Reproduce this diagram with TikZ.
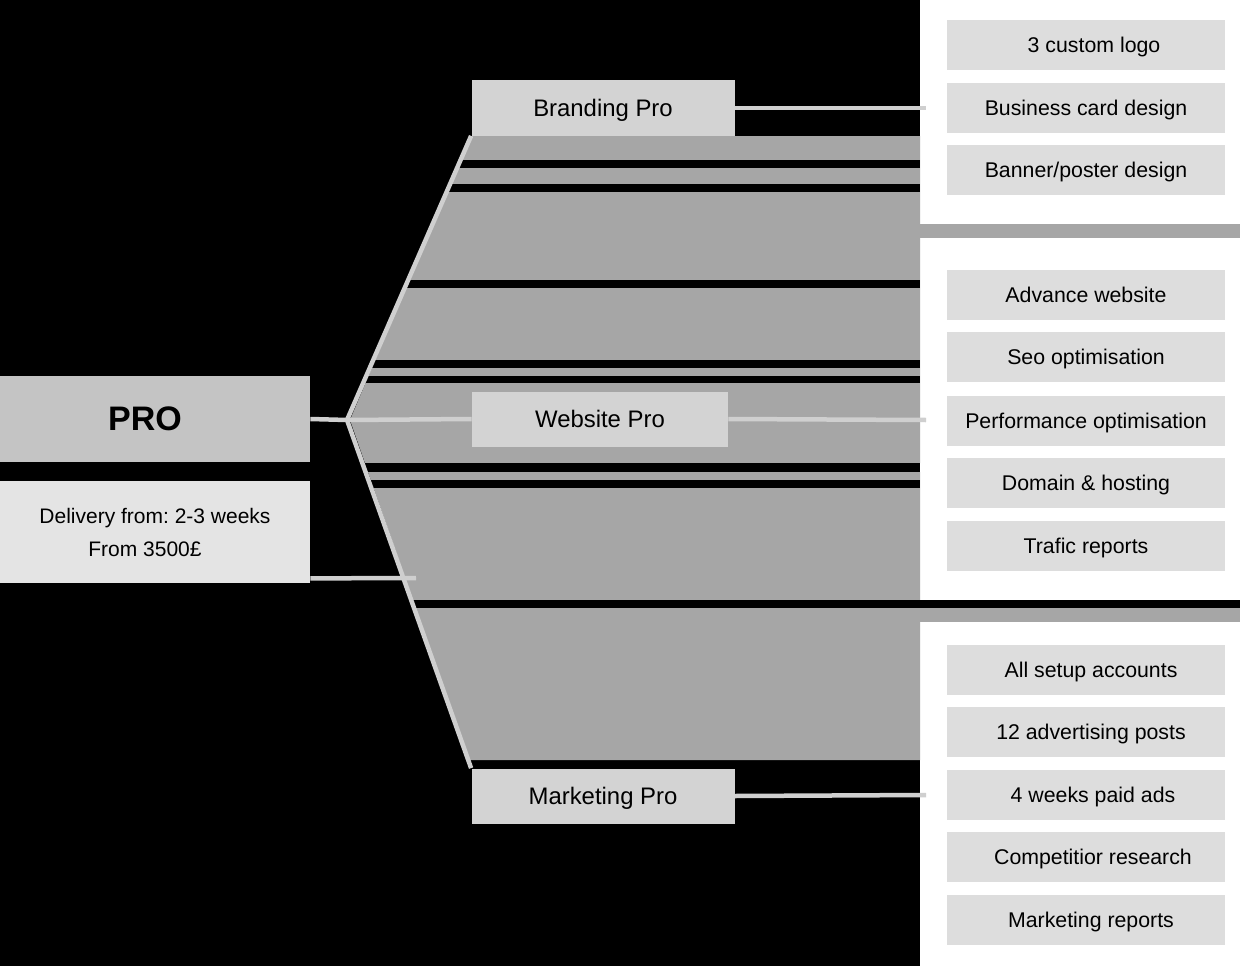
\documentclass[tikz,border=0pt]{standalone}
\usepackage{fontspec}
\setmainfont{Liberation Sans}
\frenchspacing
\definecolor{progray}{HTML}{C4C4C4}
\definecolor{infogray}{HTML}{E4E4E4}
\definecolor{groupgray}{HTML}{D3D3D3}
\definecolor{itemgray}{HTML}{DDDDDD}
\definecolor{bandgray}{HTML}{A6A6A6}
\definecolor{linegray}{HTML}{CFCFCF}

\begin{document}
\begin{tikzpicture}[x=1pt,y=-1pt,thick,
  main node/.style={fill=progray,minimum width=310pt,minimum height=86pt,inner sep=0pt,font=\fontsize{34}{40}\selectfont\bfseries},
  info node/.style={fill=infogray,minimum width=310pt,minimum height=102pt,inner sep=0pt,align=center,font=\fontsize{21}{33}\selectfont},
  group node/.style={fill=groupgray,minimum width=263pt,minimum height=55pt,inner sep=0pt,text height=17.2pt,text depth=0pt,font=\fontsize{23.9}{28}\selectfont},
  item node/.style={fill=itemgray,minimum width=278pt,minimum height=50pt,inner sep=0pt,text height=15.3pt,text depth=0pt,font=\fontsize{21.3}{25}\selectfont},
  link/.style={draw=linegray,line width=4.5pt}]

  \fill[black] (0,0) rectangle (1240,966);
  \fill[white] (920,0) rectangle (1240,966);
  \fill[bandgray] (470,136) -- (920,136) -- (920,463) -- (365,463) -- (350,420) -- cycle;
  \fill[bandgray] (368,472) -- (920,472) -- (920,760) -- (469,760) -- cycle;
  \fill[bandgray] (920,224) rectangle (1240,238);
  \fill[bandgray] (920,608) rectangle (1240,622);
  \foreach \y/\h in {160/8,184/8,280/8,360/8,376/7,463/9,480/8}
    \fill[black] (340,\y) rectangle (920,\y+\h);
  \fill[black] (340,600) rectangle (1240,608);

  \node[main node] (pro) at (155,419) {PRO\kern20pt};
  \node[info node] (dl) at (155,532) {Delivery from: 2-3 weeks\\From 3500£\kern20pt};
  \node[group node] (br) at (603,108) {Branding Pro};
  \node[group node,minimum width=256pt] (wb) at (600,419) {Website Pro};
  \node[group node] (mk) at (603,796) {Marketing Pro};

  \node[item node] (b1) at (1086,45) {\hspace{16pt}3 custom logo};
  \node[item node] (b2) at (1086,108) {Business card design};
  \node[item node] (b3) at (1086,170) {Banner/poster design};
  \node[item node] (w1) at (1086,295) {Advance website};
  \node[item node] (w2) at (1086,357) {Seo optimisation};
  \node[item node] (w3) at (1086,421) {Performance optimisation};
  \node[item node] (w4) at (1086,483) {Domain \& hosting};
  \node[item node] (w5) at (1086,546) {Trafic reports};
  \node[item node] (m1) at (1086,670) {\hspace{10pt}All setup accounts};
  \node[item node] (m2) at (1086,732) {\hspace{10pt}12 advertising posts};
  \node[item node] (m3) at (1086,795) {\hspace{14pt}4 weeks paid ads};
  \node[item node] (m4) at (1086,857) {\hspace{14pt}Competitior research};
  \node[item node] (m5) at (1086,920) {\hspace{10pt}Marketing reports};

  \coordinate (j) at (347,420);
  \coordinate (dlx) at (416,578);
  \coordinate (bre) at (926,108);
  \coordinate (wbe) at (926,420);
  \coordinate (mke) at (926,795);

  \path[link]
    (pro.east) edge (j)
    (j) edge (br.south west)
    (j) edge (wb.west)
    (j) edge (mk.north west)
    ([yshift=5pt]dl.south east) edge (dlx)
    (br.east) edge (bre)
    (wb.east) edge (wbe)
    (mk.east) edge (mke)
    ;
\end{tikzpicture}
\end{document}
